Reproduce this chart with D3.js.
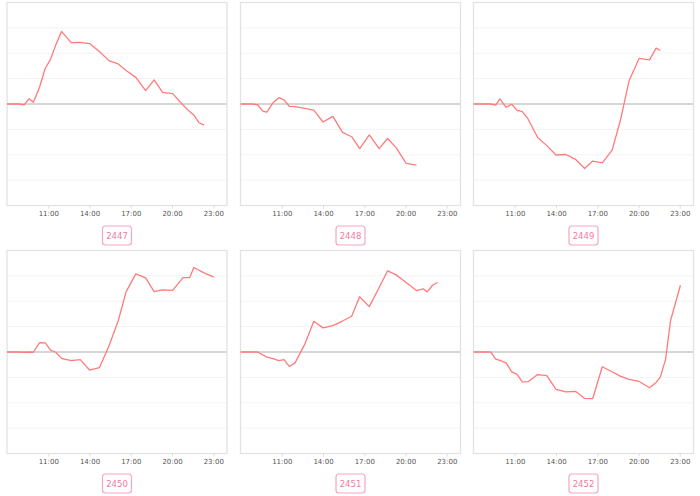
<!DOCTYPE html>
<html><head><meta charset="utf-8">
<script src="https://cdn.jsdelivr.net/npm/d3@7"></script>
<style>html,body{margin:0;padding:0;background:#fff;}svg{display:block;font-family:"DejaVu Sans",sans-serif;}</style>
</head><body><svg id="c" width="700" height="496"></svg>
<script>
const names = ["2447","2448","2449","2450","2451","2452"];
const times = ["08:00","08:50","09:15","09:37","09:55","10:22","10:47","11:10","11:33","11:58","12:40","13:20","14:00","14:43","15:25","16:05","16:40","17:22","18:05","18:42","19:19","20:03","20:48","21:17","21:35","21:58","22:20","23:03"];
const s2447 = [0,0,-0.03,0.21,0.07,0.66,1.41,1.76,2.33,2.86,2.42,2.43,2.38,2.07,1.71,1.58,1.32,1.05,0.53,0.95,0.46,0.41,-0.04,-0.30,-0.43,-0.74,-0.83,null];
const s2448 = [0,0,-0.03,-0.28,-0.32,0.05,0.25,0.16,-0.09,-0.10,-0.17,-0.24,-0.71,-0.49,-1.12,-1.29,-1.76,-1.22,-1.76,-1.36,-1.72,-2.34,-2.41,null,null,null,null,null];
const s2449 = [0,0,0,-0.04,0.20,-0.13,-0.01,-0.25,-0.30,-0.59,-1.32,-1.64,-2.01,-1.99,-2.18,-2.54,-2.25,-2.32,-1.82,-0.61,0.92,1.80,1.74,2.20,2.11,null,null,null];
const s2450 = [0,0,-0.01,0,-0.01,0.37,0.36,0.07,-0.01,-0.25,-0.34,-0.30,-0.71,-0.62,0.24,1.22,2.38,3.08,2.92,2.38,2.45,2.43,2.93,2.93,3.33,null,3.12,2.95];
const s2451 = [0,0,0,null,-0.20,-0.26,-0.34,-0.30,-0.57,-0.43,0.30,1.21,0.95,1.04,1.22,1.41,2.18,1.79,2.54,3.20,3.04,2.74,2.42,2.49,2.37,2.63,2.74,null];
const s2452 = [0,0,0,-0.28,-0.33,-0.43,-0.78,-0.88,-1.18,-1.17,-0.89,-0.93,-1.47,-1.57,-1.55,-1.83,-1.84,-0.58,-0.78,-0.96,-1.08,-1.16,-1.41,-1.20,-0.99,-0.30,1.24,2.63];
const seriesList = [s2447,s2448,s2449,s2450,s2451,s2452];
const tickLabels = ["11:00","14:00","17:00","20:00","23:00"];
const yGrid = [-3,-2,-1,1,2,3];

const parse = d3.timeParse("%Y-%m-%d %H:%M");
const day = "2020-01-01 ";
const svg = d3.select("#c");
const colX = [7, 240.5, 473.5], rowY = [2.5, 250.5];
const W = 220, H = 203;
const lineColor = "#ff7b7b";

names.forEach((name, i) => {
  const x0 = colX[i % 3], y0 = rowY[Math.floor(i / 3)];
  const g = svg.append("g").attr("transform", `translate(${x0},${y0})`);
  const x = d3.scaleTime().domain([parse(day + "08:00"), parse("2020-01-02 00:00")]).range([0, W]);
  const y = d3.scaleLinear().domain([-4, 4]).range([H, 0]);
  g.selectAll(".grid").data(yGrid).join("line")
    .attr("x1", 0).attr("x2", W).attr("y1", d => y(d)).attr("y2", d => y(d))
    .attr("stroke", "#f3f3f3").attr("stroke-width", 1);
  g.append("line").attr("x1", 0).attr("x2", W).attr("y1", y(0)).attr("y2", y(0))
    .attr("stroke", "#c8c8c8").attr("stroke-width", 1.3);
  g.append("rect").attr("x", 0).attr("y", 0).attr("width", W).attr("height", H)
    .attr("fill", "none").attr("stroke", "#e2e2e2").attr("stroke-width", 1.3);
  const tv = tickLabels.map(t => parse(day + t));
  const ax = d3.axisBottom(x).tickValues(tv).tickFormat(d3.timeFormat("%H:%M")).tickSize(3).tickPadding(3);
  const axg = g.append("g").attr("transform", `translate(0,${H})`).call(ax);
  axg.select(".domain").remove();
  axg.selectAll(".tick line").attr("stroke", "#dcdcdc");
  axg.selectAll(".tick text").attr("fill", "#555").attr("font-size", 7).attr("font-family", "DejaVu Sans, sans-serif");
  const data = times.map((t, k) => ({t: parse(day + t), v: seriesList[i][k]})).filter(d => d.v !== null);
  g.append("path").datum(data)
    .attr("d", d3.line().x(d => x(d.t)).y(d => y(d.v)))
    .attr("fill", "none").attr("stroke", lineColor).attr("stroke-width", 1.3).attr("stroke-linejoin", "round");
  const cx = W / 2, cy = H + 30;
  g.append("rect").attr("x", cx - 14.5).attr("y", cy - 9.5).attr("width", 29).attr("height", 19)
    .attr("rx", 3).attr("fill", "#fff").attr("stroke", "#f7a6c0").attr("stroke-width", 1.2);
  g.append("text").attr("x", cx).attr("y", cy).attr("text-anchor", "middle")
    .attr("dominant-baseline", "central").attr("fill", "#f27aa0").attr("font-size", 8.5).text(name);
});
</script></body></html>
